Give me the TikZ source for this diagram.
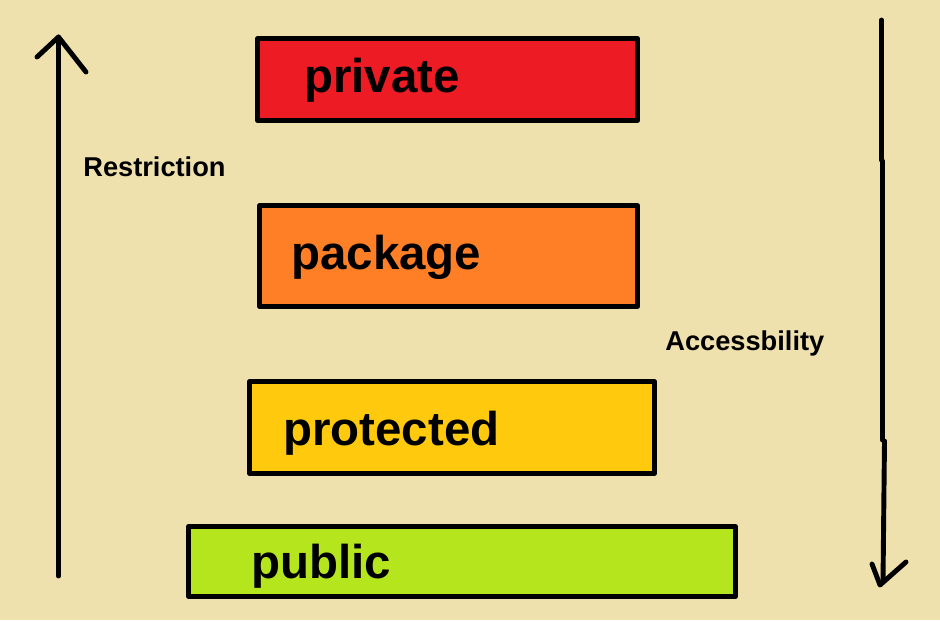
\documentclass[tikz,border=0pt]{standalone}
\usepackage{fontspec}
\setmainfont{Liberation Sans}
\usepackage{tikz}

\definecolor{paper}{RGB}{239,225,174}
\definecolor{privred}{RGB}{237,28,36}
\definecolor{packorange}{RGB}{255,127,39}
\definecolor{protyellow}{RGB}{255,201,14}
\definecolor{pubgreen}{RGB}{181,230,29}

\begin{document}
\begin{tikzpicture}[x=0.02cm,y=-0.02cm,line join=round,line cap=round,
  lvlbox/.style={draw,line width=2.8pt,inner sep=0pt},
  lvltext/.style={anchor=base west,inner sep=0pt,font=\bfseries\fontsize{27}{30}\selectfont},
  sidetext/.style={anchor=base west,inner sep=0pt,font=\bfseries\fontsize{15.5}{17}\selectfont},
  arrowline/.style={line width=2.8pt}]

% background
\fill[paper] (0,0) rectangle (940,620);

% level boxes
\node[lvlbox,fill=privred,minimum width=7.6cm,minimum height=1.64cm] (private) at (447.5,79.5) {};
\node[lvlbox,fill=packorange,minimum width=7.56cm,minimum height=2.02cm] (package) at (448.5,256) {};
\node[lvlbox,fill=protyellow,minimum width=8.1cm,minimum height=1.84cm] (protected) at (452,427.5) {};
\node[lvlbox,fill=pubgreen,minimum width=10.94cm,minimum height=1.4cm] (public) at (462,561.5) {};

% level labels
\node[lvltext] (privatetxt) at (304,92) {private};
\node[lvltext] (packagetxt) at (291,269) {package};
\node[lvltext] (protectedtxt) at (283,445) {protected};
\node[lvltext] (publictxt) at (251,578) {public};

% arrow ends
\coordinate (r0) at (58.5,576);
\coordinate (r1) at (58.5,37);
\coordinate (rl) at (37,57);
\coordinate (rr) at (86,72);

\coordinate (a0) at (881.5,20);
\coordinate (a1) at (881.5,160);
\coordinate (a2) at (882.5,161);
\coordinate (a3) at (882.5,440);
\coordinate (a4) at (884.5,441);
\coordinate (a5) at (883,582);
\coordinate (al) at (872,564);
\coordinate (ar) at (906,562);
\coordinate (at) at (880,585);

% restriction arrow
\draw[arrowline] (r0)--(r1);
\draw[arrowline] (rl)--(r1)--(rr);

% accessibility arrow
\draw[arrowline] (a0)--(a1);
\draw[arrowline] (a2)--(a3);
\draw[arrowline] (a4)--(a5);
\draw[arrowline] (al)--(at)--(ar);

% side labels
\node[sidetext] (restriction) at (83,176) {Restriction};
\node[sidetext] (access) at (665,350) {Accessbility};

\end{tikzpicture}
\end{document}
